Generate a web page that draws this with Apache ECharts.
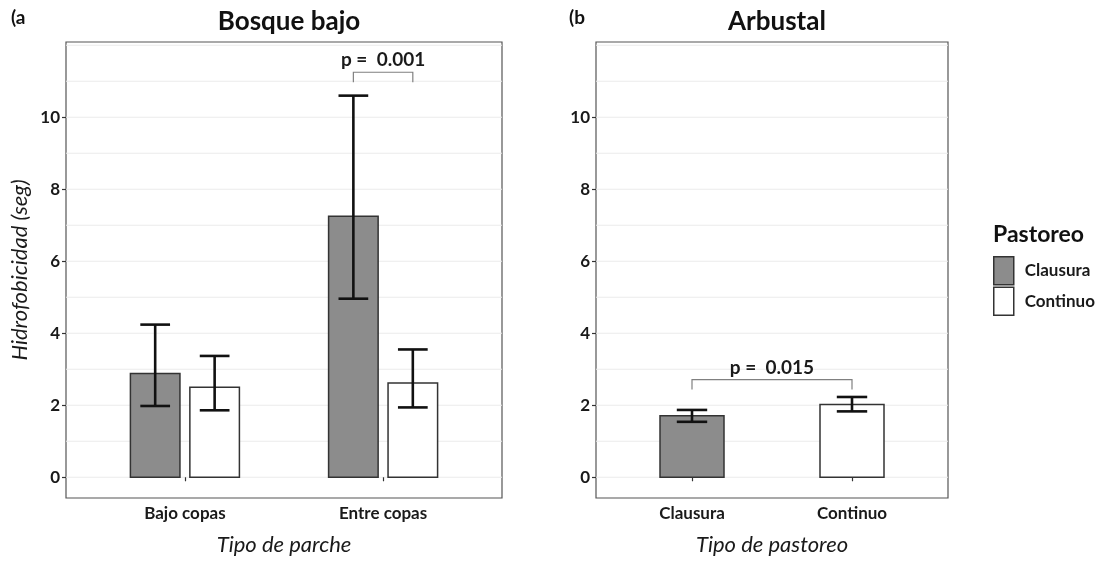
<!DOCTYPE html>
<html>
<head>
<meta charset="utf-8">
<script src="https://cdn.jsdelivr.net/npm/echarts@6/dist/echarts.min.js"></script>
<style>html,body{margin:0;padding:0;background:#fff}#c{width:1105px;height:561px}</style>
</head>
<body>
<div id="c"></div>
<script>
// ---- data ----
const catsA = ['Bajo copas', 'Entre copas'];
const clausuraA = [2.88, 7.25];
const clausuraALow = [1.98, 4.96];
const clausuraAHigh = [4.24, 10.60];
const continuoA = [2.50, 2.62];
const continuoALow = [1.86, 1.94];
const continuoAHigh = [3.37, 3.55];

const catsB = ['Clausura', 'Continuo'];
const valuesB = [1.71, 2.02];
const lowB = [1.54, 1.83];
const highB = [1.87, 2.23];

const yTickLabels = [0, 2, 4, 6, 8, 10];
const gridValues = [0, 1, 2, 3, 4, 5, 6, 7, 8, 9, 10, 11, 12];
// bracket: [x1, x2, yTop, yLeg, label]
const bracketA = [1.85, 2.15, 11.25, 10.97, 'p =  0.001'];
const bracketB = [1, 2, 2.71, 2.44, 'p =  0.015'];

const FONT = 'Lato, "Open Sans", sans-serif';
const GRAY = '#8c8c8c';
const YMIN = -0.576, YMAX = 12.09;

const chart = echarts.init(document.getElementById('c'));

function gridSeries(idx) {
  return {
    type: 'custom', xAxisIndex: idx, yAxisIndex: idx, silent: true, z: 0,
    data: gridValues.map(v => [v]),
    renderItem: function (params, api) {
      const v = api.value(0);
      const p1 = api.coord([0.4, v]);
      const p2 = api.coord([2.6, v]);
      return { type: 'line', shape: { x1: p1[0], y1: p1[1], x2: p2[0], y2: p2[1] },
        style: { stroke: '#ebebeb', lineWidth: 1.2 } };
    }
  };
}

function barSeries(name, idx, xs, vals, halfW, color) {
  return {
    type: 'custom', name: name, xAxisIndex: idx, yAxisIndex: idx, z: 2,
    data: xs.map((x, i) => [x, vals[i]]),
    renderItem: function (params, api) {
      const x = api.value(0), y = api.value(1);
      const a = api.coord([x - halfW, y]);
      const b = api.coord([x + halfW, 0]);
      return { type: 'rect', shape: { x: a[0], y: a[1], width: b[0] - a[0], height: b[1] - a[1] },
        style: { fill: color, stroke: '#333', lineWidth: 1.5 } };
    }
  };
}

function errSeries(idx, xs, lows, highs, capHalf) {
  return {
    type: 'custom', xAxisIndex: idx, yAxisIndex: idx, z: 3, silent: true,
    data: xs.map((x, i) => [x, lows[i], highs[i]]),
    renderItem: function (params, api) {
      const x = api.value(0), lo = api.value(1), hi = api.value(2);
      const pl = api.coord([x, lo]), ph = api.coord([x, hi]);
      const cl1 = api.coord([x - capHalf, lo]), cl2 = api.coord([x + capHalf, lo]);
      const ch1 = api.coord([x - capHalf, hi]), ch2 = api.coord([x + capHalf, hi]);
      const st = { stroke: '#111', lineWidth: 2.6 };
      return { type: 'group', children: [
        { type: 'line', shape: { x1: pl[0], y1: pl[1], x2: ph[0], y2: ph[1] }, style: st },
        { type: 'line', shape: { x1: cl1[0], y1: cl1[1], x2: cl2[0], y2: cl2[1] }, style: st },
        { type: 'line', shape: { x1: ch1[0], y1: ch1[1], x2: ch2[0], y2: ch2[1] }, style: st }
      ] };
    }
  };
}

function bracketSeries(idx, br) {
  return {
    type: 'custom', xAxisIndex: idx, yAxisIndex: idx, z: 4, silent: true,
    data: [br.slice(0, 4)],
    renderItem: function (params, api) {
      const x1 = api.value(0), x2 = api.value(1), yt = api.value(2), yl = api.value(3);
      const a = api.coord([x1, yl]), b = api.coord([x1, yt]), c = api.coord([x2, yt]), d = api.coord([x2, yl]);
      const m = api.coord([(x1 + x2) / 2, yt]);
      return { type: 'group', children: [
        { type: 'polyline', shape: { points: [a, b, c, d] }, style: { stroke: '#808080', lineWidth: 1.2, fill: null } },
        { type: 'text', x: m[0], y: m[1] - 12, style: { text: br[4], fontFamily: FONT, fontWeight: 'bold', fontSize: 19,
            fill: '#1a1a1a', align: 'center', verticalAlign: 'middle' } }
      ] };
    }
  };
}

function xAxisDef(idx, cats, name) {
  return {
    type: 'value', gridIndex: idx, min: 0.4, max: 2.6,
    name: name, nameLocation: 'middle', nameGap: 36,
    nameTextStyle: { fontFamily: FONT, fontStyle: 'italic', fontSize: 22, color: '#1a1a1a' },
    axisLine: { show: false },
    splitLine: { show: false },
    axisTick: { show: true, length: 4, lineStyle: { color: '#333', width: 1.2 }, customValues: [1, 2] },
    axisLabel: { customValues: [1, 2], margin: 7, fontFamily: FONT, fontWeight: 'bold', fontSize: 17, color: '#1a1a1a',
      formatter: v => cats[Math.round(v) - 1] }
  };
}

function yAxisDef(idx, name) {
  return {
    type: 'value', gridIndex: idx, min: YMIN, max: YMAX,
    name: name, nameLocation: 'middle', nameGap: 35, nameRotate: 90,
    nameTextStyle: { fontFamily: FONT, fontStyle: 'italic', fontSize: 22, color: '#1a1a1a' },
    axisLine: { show: false },
    splitLine: { show: false },
    axisTick: { show: true, length: 4, lineStyle: { color: '#333', width: 1.2 }, customValues: yTickLabels },
    axisLabel: { customValues: yTickLabels, margin: 6, fontFamily: FONT, fontWeight: 'bold', fontSize: 17, color: '#1a1a1a' }
  };
}

const posA = [1, 2];
const dodge = 0.15;

chart.setOption({
  animation: false,
  title: [
    { text: 'Bosque bajo', left: 284, top: 4, textAlign: 'center',
      textStyle: { fontFamily: FONT, fontWeight: 'bold', fontSize: 26, color: '#111' } },
    { text: 'Arbustal', left: 772, top: 4, textAlign: 'center',
      textStyle: { fontFamily: FONT, fontWeight: 'bold', fontSize: 26, color: '#111' } },
    { text: '(a', left: 6, top: 3, textStyle: { fontFamily: FONT, fontWeight: 'bold', fontSize: 19, color: '#111' } },
    { text: '(b', left: 564, top: 3, textStyle: { fontFamily: FONT, fontWeight: 'bold', fontSize: 19, color: '#111' } },
    { text: 'Pastoreo', left: 988, top: 218, textStyle: { fontFamily: FONT, fontWeight: 'bold', fontSize: 23, color: '#111' } }
  ],
  legend: {
    orient: 'vertical', left: 993, top: 256, itemWidth: 20, itemHeight: 28, itemGap: 1, padding: 0,
    selectedMode: false,
    textStyle: { fontFamily: FONT, fontWeight: 'bold', fontSize: 17, color: '#1a1a1a', padding: [0, 0, 0, 6] },
    data: [
      { name: 'Clausura', icon: 'rect', itemStyle: { color: GRAY, borderColor: '#333', borderWidth: 1.5 } },
      { name: 'Continuo', icon: 'rect', itemStyle: { color: '#fff', borderColor: '#333', borderWidth: 1.5 } }
    ]
  },
  grid: [
    { left: 66, top: 42, width: 436, height: 458, show: true, borderColor: '#555', borderWidth: 1.2, backgroundColor: 'transparent' },
    { left: 596, top: 42, width: 352, height: 458, show: true, borderColor: '#555', borderWidth: 1.2, backgroundColor: 'transparent' }
  ],
  xAxis: [xAxisDef(0, catsA, 'Tipo de parche'), xAxisDef(1, catsB, 'Tipo de pastoreo')],
  yAxis: [yAxisDef(0, 'Hidrofobicidad (seg)'), yAxisDef(1, '')],
  series: [
    gridSeries(0),
    gridSeries(1),
    barSeries('Clausura', 0, posA.map(p => p - dodge), clausuraA, 0.125, GRAY),
    barSeries('Continuo', 0, posA.map(p => p + dodge), continuoA, 0.125, '#fff'),
    errSeries(0, posA.map(p => p - dodge), clausuraALow, clausuraAHigh, 0.075),
    errSeries(0, posA.map(p => p + dodge), continuoALow, continuoAHigh, 0.075),
    barSeries('Clausura', 1, [1], [valuesB[0]], 0.2, GRAY),
    barSeries('Continuo', 1, [2], [valuesB[1]], 0.2, '#fff'),
    errSeries(1, [1, 2], lowB, highB, 0.095),
    bracketSeries(0, bracketA),
    bracketSeries(1, bracketB)
  ]
});
</script>
</body>
</html>
